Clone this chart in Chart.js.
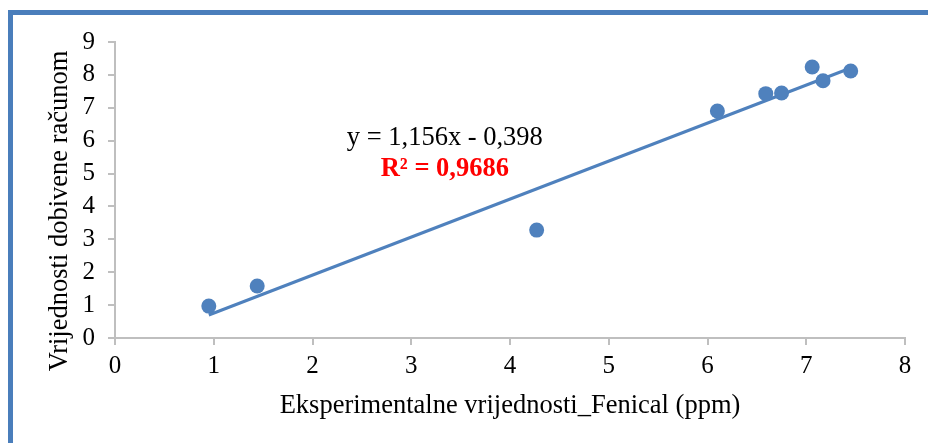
<!DOCTYPE html>
<html>
<head>
<meta charset="utf-8">
<script src="https://cdn.jsdelivr.net/npm/chart.js@4.4.1/dist/chart.umd.min.js"></script>
<style>
    html, body { margin: 0; padding: 0; background: #fff; }
    #grafico-container { position: relative; width: 928px; height: 443px; overflow: hidden; }
    #okvir {
        position: absolute; left: 8px; top: 10px; width: 1000px; height: 500px;
        border: 5px solid #4a7ebb; box-sizing: border-box; pointer-events: none;
    }
</style>
</head>
<body>
<div id="grafico-container">
    <canvas id="grafico" width="928" height="443"></canvas>
    <div id="okvir"></div>
</div>
<script>
// podaci ocitani sa slike
const eksperimentalne = [0.95, 1.44, 4.27, 6.10, 6.59, 6.75, 7.06, 7.17, 7.45];
const izracunate = [0.97, 1.58, 3.28, 6.90, 7.43, 7.45, 8.24, 7.82, 8.12];
const trendX = [0.95, 7.45];
const trendY = [0.70, 8.21];
const xOznake = [0, 1, 2, 3, 4, 5, 6, 7, 8];
const yOznake = [0, 1, 2, 3, 4, 5, 6, 7, 8, 9];
const jednadzba = 'y = 1,156x - 0,398';
const rKvadrat = 'R² = 0,9686';
const naslovX = 'Eksperimentalne vrijednosti_Fenical (ppm)';
const naslovY = 'Vrijednosti dobivene računom';

const plava = '#4f81bd';
const siva = '#bfbfbf';
const font = 'Liberation Serif, Times New Roman, serif';

const tekstovi = {
    id: 'tekstovi',
    afterDatasetsDraw(chart) {
        const ctx = chart.ctx;
        const x = chart.scales.x;
        const y = chart.scales.y;
        const area = chart.chartArea;
        ctx.save();
        ctx.textAlign = 'center';
        ctx.textBaseline = 'middle';
        ctx.fillStyle = '#000';
        ctx.font = '26.5px ' + font;
        ctx.fillText(jednadzba, x.getPixelForValue(3.34), y.getPixelForValue(6.08));
        ctx.fillStyle = '#ff0000';
        ctx.font = 'bold 26.5px ' + font;
        ctx.fillText(rKvadrat, x.getPixelForValue(3.34), y.getPixelForValue(5.13));
        // naslov y osi
        ctx.fillStyle = '#000';
        ctx.font = '26.5px ' + font;
        ctx.translate(60, (area.top + area.bottom) / 2 + 21);
        ctx.rotate(-Math.PI / 2);
        ctx.fillText(naslovY, 0, 0);
        ctx.restore();
    }
};

new Chart(document.getElementById('grafico').getContext('2d'), {
    type: 'scatter',
    data: {
        datasets: [{
            label: 'Trend',
            type: 'line',
            data: trendX.map((v, i) => ({ x: v, y: trendY[i] })),
            borderColor: plava,
            borderWidth: 3,
            pointRadius: 0,
            fill: false,
            order: 2
        }, {
            label: 'Vrijednosti',
            data: eksperimentalne.map((v, i) => ({ x: v, y: izracunate[i] })),
            backgroundColor: plava,
            borderColor: plava,
            pointRadius: 7.5,
            borderWidth: 0,
            order: 1
        }]
    },
    options: {
        responsive: false,
        animation: false,
        layout: { padding: { top: 42, right: 23, left: 0, bottom: 0 } },
        scales: {
            x: {
                type: 'linear',
                min: 0,
                max: 8,
                afterBuildTicks: scale => { scale.ticks = xOznake.map(v => ({ value: v })); },
                afterFit: scale => { scale.height = 105; },
                grid: { drawOnChartArea: false, drawTicks: true, tickLength: 7, color: siva, lineWidth: 2 },
                border: { display: true, color: siva, width: 2 },
                ticks: { color: '#000', padding: 6, autoSkip: false, maxRotation: 0, font: { family: font, size: 25 } },
                title: {
                    display: true,
                    text: naslovX,
                    color: '#000',
                    padding: { top: 0, bottom: 21 },
                    font: { family: font, size: 26.5 }
                }
            },
            y: {
                type: 'linear',
                min: 0,
                max: 9,
                afterBuildTicks: scale => { scale.ticks = yOznake.map(v => ({ value: v })); },
                afterFit: scale => { scale.width = 115; },
                grid: { drawOnChartArea: false, drawTicks: true, tickLength: 7, color: siva, lineWidth: 2 },
                border: { display: true, color: siva, width: 2 },
                ticks: { color: '#000', padding: 13, autoSkip: false, font: { family: font, size: 25 } }
            }
        },
        plugins: {
            legend: { display: false },
            tooltip: { enabled: false }
        }
    },
    plugins: [tekstovi]
});
</script>
</body>
</html>
